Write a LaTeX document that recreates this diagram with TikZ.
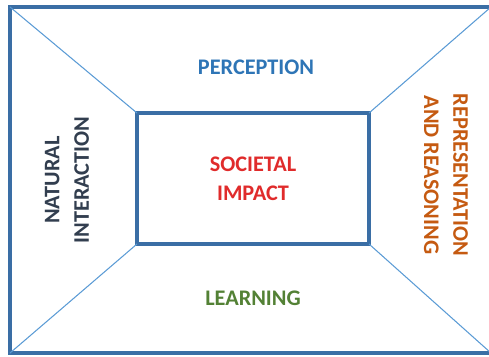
\documentclass[tikz,border=0pt]{standalone}
\usepackage{fontspec}
\setmainfont{Carlito}
\usetikzlibrary{positioning}
\definecolor{frameblue}{HTML}{3A6EA5}
\definecolor{lineblue}{HTML}{5B9BD5}
\definecolor{percblue}{HTML}{2E75B6}
\definecolor{socred}{HTML}{E02B2B}
\definecolor{learngreen}{HTML}{538135}
\definecolor{natgray}{HTML}{323E4F}
\definecolor{reasorange}{HTML}{C55A11}

\begin{document}
\begin{tikzpicture}[x=0.3mm,y=-0.3mm,
    every node/.style={font=\bfseries\fontsize{19}{25}\selectfont,align=center},
    frame/.style={draw=frameblue,line width=2.6pt},
    diag/.style={draw=lineblue,line width=0.9pt},
    core/.style={frame,minimum width=69.6mm,minimum height=39.3mm,inner sep=0pt,outer sep=0pt}]
    \useasboundingbox (0,0) rectangle (489,356);

    % outer frame corners
    \coordinate (OuterNW) at (10,7);
    \coordinate (OuterNE) at (491,7);
    \coordinate (OuterSW) at (10,353);
    \coordinate (OuterSE) at (491,353);
    \draw[frame] (OuterNW) rectangle (OuterSE);

    \node[core]                       (Impact)     at (253,178.5) {\color{socred}SOCIETAL\\\color{socred}IMPACT};
    \node[text=percblue]              (Perception) at (256,67)    {PERCEPTION};
    \node[text=learngreen]            (Learning)   at (253,298)   {LEARNING};
    \node[text=natgray,rotate=90]     (Natural)    at (67,180)    {NATURAL\\INTERACTION};
    \node[text=reasorange,rotate=-90] (Reasoning)  at (446,175)   {REPRESENTATION\\AND REASONING};

    \draw[diag] (OuterNW) -- (Impact.north west);
    \draw[diag] (OuterNE) -- (Impact.north east);
    \draw[diag] (OuterSW) -- (Impact.south west);
    \draw[diag] (OuterSE) -- (Impact.south east);
\end{tikzpicture}
\end{document}
